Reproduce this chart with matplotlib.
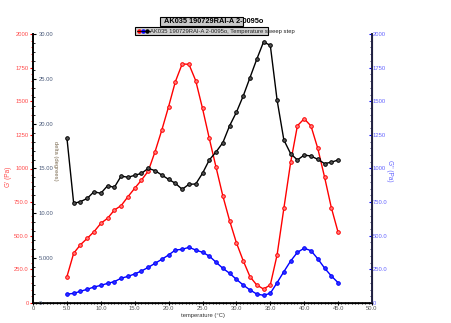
import matplotlib
matplotlib.use("Agg")
import matplotlib.pyplot as plt
from matplotlib.patches import Rectangle
from matplotlib.lines import Line2D
from matplotlib.ticker import MultipleLocator
import numpy as np

plt.rcParams['font.family'] = ['Liberation Sans', 'DejaVu Sans']

temperature = list(range(5, 46))
g_storage = [195, 370, 433, 481, 530, 592, 630, 691, 724, 790, 853, 914, 981, 1125,
             1286, 1460, 1646, 1777, 1775, 1653, 1447, 1224, 1009, 796, 612, 448, 315,
             196, 134, 104, 134, 357, 704, 1045, 1318, 1370, 1316, 1150, 937, 709, 526]
g_loss = [65, 72, 87, 102, 119, 131, 146, 159, 184, 198, 216, 238, 265, 295, 325, 357,
          394, 399, 414, 394, 377, 349, 303, 258, 221, 176, 134, 97, 67, 57, 72, 151,
          233, 312, 377, 407, 389, 329, 260, 201, 151]
delta = [18.43, 11.12, 11.3, 11.67, 12.41, 12.23, 13.08, 12.90, 14.16, 14.02, 14.24,
         14.46, 15.02, 14.76, 14.27, 13.79, 13.35, 12.68, 13.24, 13.27, 14.46, 15.95,
         16.85, 17.88, 19.77, 21.27, 23.08, 25.13, 27.18, 29.11, 28.74, 22.64, 18.18,
         16.65, 15.95, 16.5, 16.39, 16.02, 15.55, 15.7, 15.95]

g_ticks = [0, 250, 500, 750, 1000, 1250, 1500, 1750, 2000]
g_ticklabels = ["0", "250.0", "500.0", "750.0", "1000", "1250", "1500", "1750", "2000"]
d_ticks = [0, 5, 10, 15, 20, 25, 30]
d_ticklabels = ["0", "5.000", "10.00", "15.00", "20.00", "25.00", "30.00"]
x_ticks = [0, 5, 10, 15, 20, 25, 30, 35, 40, 45, 50]
x_ticklabels = ["0", "5.0", "10.0", "15.0", "20.0", "25.0", "30.0", "35.0", "40.0", "45.0", "50.0"]

title = "AK035 190729RAI-A 2-0095o"
legend_text = "AK035 190729RAI-A 2-0095o, Temperature sweep step"

RED = '#ff0000'
BLUE = '#0000ff'
RED_T = '#ff4a4a'
BLUE_T = '#6464ff'
D_T = '#4a5a7a'

W, H = 451, 323
fig = plt.figure(figsize=(W / 100, H / 100), dpi=100)
L, R, B, T = 33 / W, 372 / W, (H - 303) / H, (H - 34) / H
ax = fig.add_axes([L, B, R - L, T - B])
ax_r = ax.twinx()
ax_d = ax.twinx()

fs = 4.2

# G' axis (left outer)
ax.set_xlim(0, 50)
ax.set_ylim(0, 2000)
ax.set_yticks(g_ticks)
ax.set_yticklabels(g_ticklabels)
ax.yaxis.set_minor_locator(MultipleLocator(50))
ax.tick_params(axis='y', which='major', colors=RED, labelcolor=RED_T, length=2.5,
               width=0.8, labelsize=fs, pad=0.5, direction='out')
ax.tick_params(axis='y', which='minor', colors=RED, length=1.5, width=0.6, direction='out')
ax.set_xticks(x_ticks)
ax.set_xticklabels(x_ticklabels)
ax.xaxis.set_minor_locator(MultipleLocator(0.5))
ax.tick_params(axis='x', which='major', length=3, width=0.8, labelsize=fs, pad=1,
               direction='inout', labelcolor='#555555')
ax.tick_params(axis='x', which='minor', length=2, width=0.6, direction='inout')
ax.set_xlabel("temperature (°C)", fontsize=fs, labelpad=1, color='#333333')
ax.set_ylabel("G' (Pa)", fontsize=fs + 0.5, color=RED_T)
ax.yaxis.set_label_coords(-0.062, 0.47)

for a in (ax, ax_r, ax_d):
    a.spines['top'].set_visible(False)
ax.spines['left'].set_linewidth(1.4)
ax.spines['bottom'].set_linewidth(1.2)
ax_r.spines['right'].set_linewidth(1.4)
ax_r.spines['right'].set_color('#222244')
ax_d.spines['right'].set_visible(False)
ax_d.spines['left'].set_visible(False)
ax_r.spines['left'].set_visible(False)

# G'' axis (right)
ax_r.set_ylim(0, 2000)
ax_r.set_yticks(g_ticks)
ax_r.set_yticklabels(g_ticklabels)
ax_r.yaxis.set_minor_locator(MultipleLocator(50))
ax_r.tick_params(axis='y', which='major', colors=BLUE, labelcolor=BLUE_T, length=2.5,
                 width=0.8, labelsize=fs, pad=0.5, direction='in')
ax_r.tick_params(axis='y', which='minor', colors='#222244', length=1.5, width=0.6, direction='in')
ax_r.set_ylabel("G'' (Pa)", fontsize=fs + 0.5, color=BLUE_T, rotation=270)
ax_r.yaxis.set_label_coords(1.062, 0.49)

# delta axis (inner left)
ax_d.yaxis.set_ticks_position('left')
ax_d.yaxis.set_label_position('left')
ax_d.set_ylim(0, 30)
ax_d.set_yticks(d_ticks)
ax_d.set_yticklabels(d_ticklabels)
ax_d.yaxis.set_minor_locator(MultipleLocator(1))
ax_d.tick_params(axis='y', which='major', colors='black', labelcolor=D_T, length=2.5,
                 width=0.8, labelsize=fs, pad=-4, direction='in')
ax_d.tick_params(axis='y', which='minor', colors='black', length=1.5, width=0.6, direction='in')
for lab in ax_d.get_yticklabels():
    lab.set_horizontalalignment('left')
ax_d.set_ylabel("delta (degrees)", fontsize=fs, color='#7a6a50', rotation=270)
ax_d.yaxis.set_label_coords(0.058, 0.53)

ms = 2.6
ax.plot(temperature, g_storage, color=RED, lw=1.0, marker='o', ms=ms,
        mfc='#ff8080', mec=RED, mew=0.7, zorder=3)
ax_r.plot(temperature, g_loss, color=BLUE, lw=1.0, marker='o', ms=ms,
          mfc='#3030ff', mec=BLUE, mew=0.7, zorder=3)
ax_d.plot(temperature, delta, color='black', lw=1.0, marker='o', ms=ms,
          mfc='#555555', mec='black', mew=0.7, zorder=3)

# Title box
fig.patches.append(Rectangle((160 / W, 1 - 26 / H), 83 / W, 9 / H, transform=fig.transFigure,
                             facecolor='#c8c8c8', edgecolor='black', lw=0.8))
fig.text(214 / W, 1 - 21.5 / H, title, fontsize=5.3, fontweight='bold', ha='center', va='center')

# Legend box
fig.patches.append(Rectangle((135 / W, 1 - 35 / H), 133 / W, 8 / H, transform=fig.transFigure,
                             facecolor='#d0d0d0', edgecolor='black', lw=0.8))
for xs, c in ((139, RED), (143, BLUE), (147, 'black')):
    fig.lines.append(Line2D([xs / W], [1 - 31 / H], transform=fig.transFigure, marker='o',
                            ms=2.2, color=c, lw=0))
fig.lines.append(Line2D([137 / W, 150 / W], [1 - 31 / H, 1 - 31 / H], transform=fig.transFigure,
                        color='black', lw=0.6))
fig.text(150 / W, 1 - 31 / H, legend_text, fontsize=4.2, ha='left', va='center', color='#222222')

fig.savefig("out.png", dpi=100)
